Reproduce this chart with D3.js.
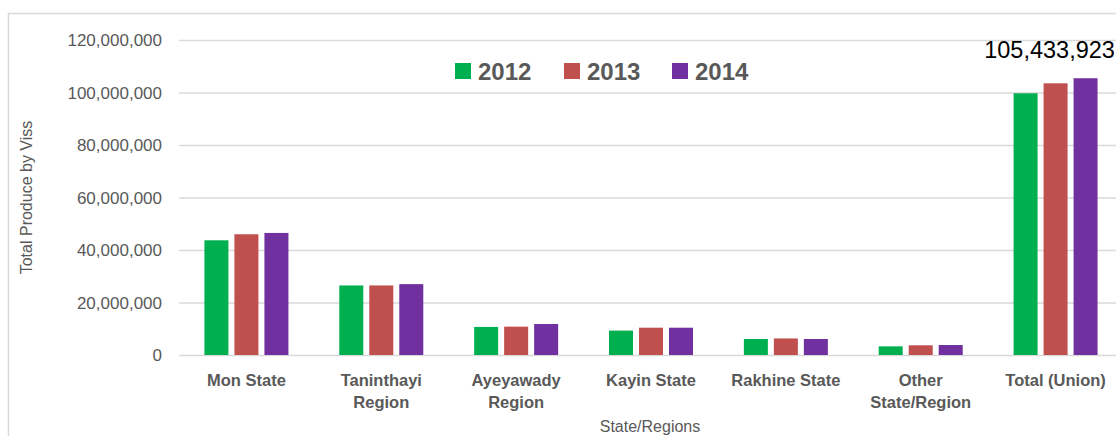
<!DOCTYPE html>
<html>
<head>
<meta charset="utf-8">
<script src="https://cdn.jsdelivr.net/npm/d3@7"></script>
<style>
  html, body { margin: 0; padding: 0; background: #fff; }
  svg { display: block; font-family: "Liberation Sans", Arial, sans-serif; }
</style>
</head>
<body>
<svg id="chart" width="1116" height="436"></svg>
<script>
// Total produce by state/region, in viss
const categories = [
  ["Mon State"],
  ["Taninthayi", "Region"],
  ["Ayeyawady", "Region"],
  ["Kayin State"],
  ["Rakhine State"],
  ["Other", "State/Region"],
  ["Total (Union)"]
];
const years = ["2012", "2013", "2014"];
const values2012 = [43700000, 26500000, 10700000, 9300000, 6100000, 3300000, 99700000];
const values2013 = [46000000, 26500000, 10800000, 10400000, 6300000, 3700000, 103500000];
const values2014 = [46500000, 27000000, 11800000, 10400000, 6100000, 3800000, 105433923];
const yTicks = [0, 20000000, 40000000, 60000000, 80000000, 100000000, 120000000];
const colors = ["#00b050", "#c0504d", "#7030a0"];

const series = [values2012, values2013, values2014];
const svg = d3.select("#chart");

// outer chart frame
svg.append("rect")
  .attr("x", 8.5).attr("y", 13.5)
  .attr("width", 1200).attr("height", 500)
  .attr("fill", "none").attr("stroke", "#d9d9d9").attr("stroke-width", 1.5);

const plot = { left: 179, right: 1123, top: 40, bottom: 355 };

const y = d3.scaleLinear().domain([0, 120000000]).range([plot.bottom, plot.top]);
const x0 = d3.scaleBand()
  .domain(d3.range(categories.length))
  .range([plot.left, plot.right])
  .paddingInner(0).paddingOuter(0);
const barStep = 30, barW = 24;
const x1 = d3.scaleBand().domain(years)
  .range([-barStep * 1.5, barStep * 1.5]).paddingInner(0.2).paddingOuter(0.1);

// gridlines
const yAxis = d3.axisLeft(y).tickValues(yTicks).tickSize(-(plot.right - plot.left) - 20)
  .tickFormat(d3.format(","));
const gy = svg.append("g").attr("transform", `translate(${plot.left},0)`).call(yAxis);
gy.select(".domain").remove();
gy.selectAll(".tick line").attr("stroke", "#d9d9d9").attr("stroke-width", 1.5);
gy.selectAll(".tick text")
  .attr("x", -17).attr("dy", "0.35em")
  .attr("fill", "#595959").style("font-size", "17px");

// bars
const groups = svg.append("g").selectAll("g")
  .data(categories)
  .join("g")
  .attr("transform", (d, i) => `translate(${x0(i) + x0.bandwidth() / 2},0)`);

groups.selectAll("rect")
  .data((d, i) => years.map((yr, k) => ({ yr, k, v: series[k][i] })))
  .join("rect")
  .attr("x", d => x1(d.yr) + (x1.bandwidth() - barW) / 2)
  .attr("width", barW)
  .attr("y", d => y(d.v))
  .attr("height", d => y(0) - y(d.v))
  .attr("fill", d => colors[d.k]);

// category labels
groups.append("text")
  .attr("text-anchor", "middle")
  .attr("fill", "#595959")
  .style("font-size", "16.5px").style("font-weight", "bold")
  .selectAll("tspan")
  .data(d => d)
  .join("tspan")
  .attr("x", 0)
  .attr("y", (d, j) => 386 + j * 22)
  .text(d => d);

// value label on the 2014 union total
const last = categories.length - 1;
svg.append("text")
  .attr("x", x0(last) + x0.bandwidth() / 2 - 6)
  .attr("y", y(values2014[last]) - 20)
  .attr("text-anchor", "middle")
  .attr("fill", "#000")
  .style("font-size", "23.5px")
  .text(d3.format(",")(values2014[last]));

// legend
const legendX = [455, 564, 672];
const legend = svg.append("g").selectAll("g")
  .data(years).join("g")
  .attr("transform", (d, i) => `translate(${legendX[i]},63)`);
legend.append("rect").attr("width", 16).attr("height", 16)
  .attr("fill", (d, i) => colors[i]);
legend.append("text")
  .attr("x", 23).attr("y", 16.5)
  .attr("fill", "#595959")
  .style("font-size", "24px").style("font-weight", "bold")
  .text(d => d);

// axis titles
svg.append("text")
  .attr("x", 650).attr("y", 432)
  .attr("text-anchor", "middle").attr("fill", "#595959")
  .style("font-size", "16px")
  .text("State/Regions");

svg.append("text")
  .attr("transform", `translate(32,${(plot.top + plot.bottom) / 2}) rotate(-90)`)
  .attr("text-anchor", "middle").attr("fill", "#595959")
  .style("font-size", "16px")
  .text("Total Produce by Viss");
</script>
</body>
</html>
